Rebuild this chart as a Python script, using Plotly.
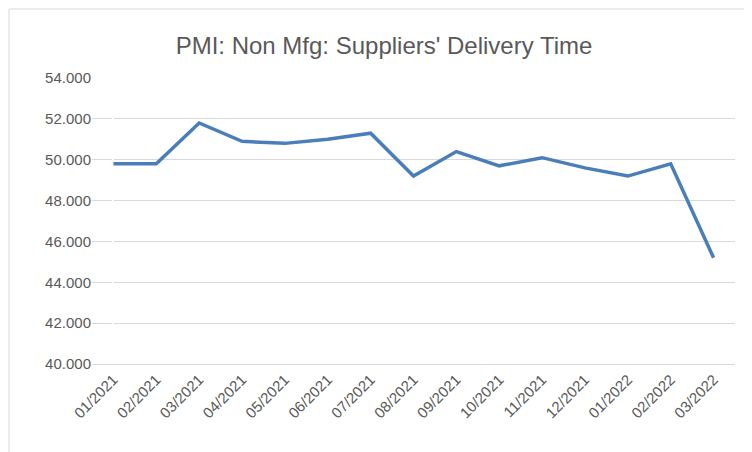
import plotly.graph_objects as go

months = ["01/2021","02/2021","03/2021","04/2021","05/2021","06/2021","07/2021","08/2021",
          "09/2021","10/2021","11/2021","12/2021","01/2022","02/2022","03/2022"]
values = [49.8, 49.8, 51.8, 50.9, 50.8, 51.0, 51.3, 49.2, 50.4, 49.7, 50.1, 49.6, 49.2, 49.8, 45.2]
yticks = [40, 42, 44, 46, 48, 50, 52, 54]

L, R, T, B = 84, 25, 70, 96
pw, ph = 752 - L - R, 452 - T - B
fig = go.Figure(go.Scatter(x=list(range(len(months))), y=values, mode="lines",
                           line=dict(color="#4a7ebb", width=3.5)))
fig.update_layout(
    width=752, height=452, paper_bgcolor="white", plot_bgcolor="white",
    margin=dict(l=L, r=R, t=T, b=B),
    title=dict(text="PMI: Non Mfg: Suppliers' Delivery Time", x=0.5, xanchor="center",
               y=1 - 38/452, yanchor="middle",
               font=dict(family="Liberation Sans", size=24, color="#595959")),
    font=dict(family="Liberation Sans", size=15, color="#595959"),
    showlegend=False,
    xaxis=dict(tickmode="array", tickvals=list(range(len(months))), ticktext=months,
               range=[-0.5, len(months)-0.5], tickangle=-45, showgrid=False,
               showline=True, linecolor="#d9d9d9", ticks=""),
    yaxis=dict(range=[40, 54], tickvals=yticks, ticktext=[f"{v:.3f}" for v in yticks],
               showgrid=True, gridcolor="#d9d9d9", zeroline=False, ticks="", ticklen=8,
               tickcolor="white"),
    shapes=[dict(type="rect", xref="paper", yref="paper", x0=-(L-1)/pw, x1=1+(R-1)/pw,
                 y0=-(B-1)/ph, y1=1+(T-1)/ph, line=dict(color="#d9d9d9", width=1))],
)
fig.write_html("out.html")
